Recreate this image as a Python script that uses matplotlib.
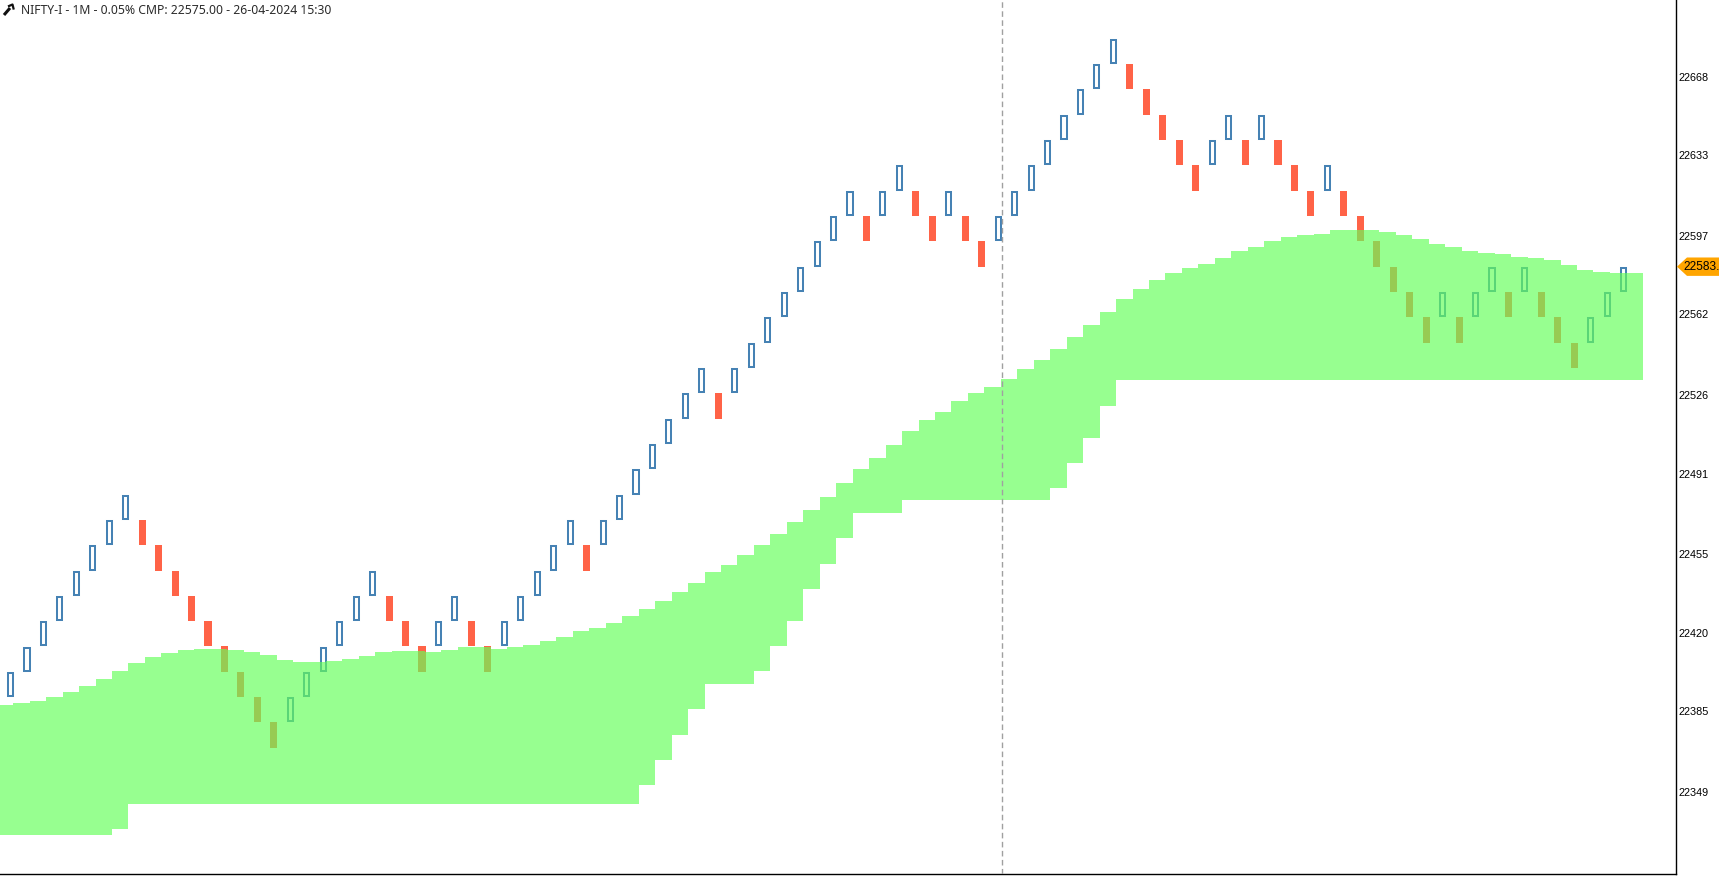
import numpy as np
import matplotlib
matplotlib.use("Agg")
import matplotlib.pyplot as plt
from matplotlib.lines import Line2D
from matplotlib.patches import Polygon
import matplotlib.transforms as mtransforms

# Renko bricks (0.05% box): top price of every brick and its direction
box_size = 11.29
brick_top = [
    22402.65, 22413.94, 22425.23, 22436.52, 22447.81, 22459.10, 22470.39, 22481.68,
    22470.39, 22459.10, 22447.81, 22436.52, 22425.23, 22413.94, 22402.65, 22391.36, 22380.07,
    22391.36, 22402.65, 22413.94, 22425.23, 22436.52, 22447.81,
    22436.52, 22425.23, 22413.94,
    22425.23, 22436.52,
    22425.23, 22413.94,
    22425.23, 22436.52, 22447.81, 22459.10, 22470.39,
    22459.10,
    22470.39, 22481.68, 22492.97, 22504.26, 22515.55, 22526.84, 22538.13,
    22526.84,
    22538.13, 22549.42, 22560.71, 22572.00, 22583.29, 22594.58, 22605.87, 22617.16,
    22605.87,
    22617.16, 22628.45,
    22617.16, 22605.87,
    22617.16,
    22605.87, 22594.58,
    22605.87, 22617.16, 22628.45, 22639.74, 22651.03, 22662.32, 22673.61, 22684.90,
    22673.61, 22662.32, 22651.03, 22639.74, 22628.45,
    22639.74, 22651.03,
    22639.74,
    22651.03,
    22639.74, 22628.45, 22617.16,
    22628.45,
    22617.16, 22605.87, 22594.58, 22583.29, 22572.00, 22560.71,
    22572.00,
    22560.71,
    22572.00, 22583.29,
    22572.00,
    22583.29,
    22572.00, 22560.71, 22549.42,
    22560.71, 22572.00, 22583.29,
]
brick_dir = list(
    "UUUUUUUU" "DDDDDDDDD" "UUUUUU" "DDD" "UU" "DD" "UUUUU" "D" "UUUUUUU" "D"
    "UUUUUUUU" "D" "UU" "DD" "U" "DD" "UUUUUUUU" "DDDDD" "UU" "D" "U" "DDD" "U"
    "DDDDDD" "U" "D" "UU" "D" "U" "DDD" "UUU"
)

# Green band (upper / lower edge per column, column 0 is just before the first brick)
band_upper = [
    22387.8, 22388.7, 22389.6, 22391.4, 22393.6, 22396.3, 22399.4, 22403.0, 22406.6, 22409.2,
    22411.0, 22412.4, 22412.8, 22412.8, 22412.4, 22411.5, 22410.1, 22407.9, 22407.0, 22407.0,
    22407.5, 22408.4, 22409.7, 22411.5, 22411.9, 22411.9, 22411.5, 22412.4, 22413.7, 22413.7,
    22412.8, 22413.7, 22414.6, 22416.4, 22418.2, 22420.8, 22422.2, 22424.4, 22427.5, 22430.6,
    22434.2, 22438.2, 22442.2, 22447.1, 22450.3, 22454.7, 22459.2, 22464.1, 22469.4, 22474.8,
    22480.6, 22486.8, 22493.1, 22498.0, 22503.8, 22510.0, 22514.9, 22518.5, 22523.4, 22526.9,
    22529.6, 22533.2, 22537.6, 22541.6, 22546.6, 22551.9, 22557.3, 22563.1, 22568.8, 22573.3,
    22577.3, 22580.5, 22582.7, 22584.5, 22587.1, 22590.2, 22592.0, 22594.7, 22596.5, 22597.4,
    22597.8, 22599.6, 22599.6, 22599.6, 22598.7, 22597.4, 22595.6, 22593.4, 22592.0, 22590.2,
    22589.4, 22588.9, 22587.6, 22587.1, 22586.2, 22584.0, 22581.8, 22580.9, 22580.5, 22580.5,
]
band_lower = [
    22329.9, 22329.9, 22329.9, 22329.9, 22329.9, 22329.9, 22329.9, 22332.6, 22343.7, 22343.7,
    22343.7, 22343.7, 22343.7, 22343.7, 22343.7, 22343.7, 22343.7, 22343.7, 22343.7, 22343.7,
    22343.7, 22343.7, 22343.7, 22343.7, 22343.7, 22343.7, 22343.7, 22343.7, 22343.7, 22343.7,
    22343.7, 22343.7, 22343.7, 22343.7, 22343.7, 22343.7, 22343.7, 22343.7, 22343.7, 22352.2,
    22363.3, 22374.5, 22386.1, 22397.2, 22397.2, 22397.2, 22403.0, 22414.1, 22425.3, 22439.6,
    22450.7, 22462.3, 22473.4, 22473.4, 22473.4, 22479.2, 22479.2, 22479.2, 22479.2, 22479.2,
    22479.2, 22479.2, 22479.2, 22479.2, 22484.6, 22495.7, 22506.9, 22521.1, 22532.7, 22532.7,
    22532.7, 22532.7, 22532.7, 22532.7, 22532.7, 22532.7, 22532.7, 22532.7, 22532.7, 22532.7,
    22532.7, 22532.7, 22532.7, 22532.7, 22532.7, 22532.7, 22532.7, 22532.7, 22532.7, 22532.7,
    22532.7, 22532.7, 22532.7, 22532.7, 22532.7, 22532.7, 22532.7, 22532.7, 22532.7, 22532.7,
]

price_ticks = [22349, 22385, 22420, 22455, 22491, 22526, 22562, 22597, 22633, 22668]
last_price = 22583.29
title = "NIFTY-I - 1M - 0.05% CMP: 22575.00 - 26-04-2024 15:30"

W, H = 1719, 890
fig = plt.figure(figsize=(W / 100, H / 100), dpi=100)
ax = fig.add_axes([0, 1 - 874 / H, 1676 / W, 874 / H])

x = np.arange(1, len(brick_top) + 1)
top = np.array(brick_top)
up = np.array([d == "U" for d in brick_dir])

# down bricks: solid tomato
ax.bar(x[~up], box_size, bottom=top[~up] - box_size, width=0.43,
       color="#FF6347", linewidth=0, zorder=2)
# up bricks: hollow steel blue
inset = 0.45
ax.bar(x[up], box_size - 2 * inset, bottom=top[up] - box_size + inset, width=0.31,
       fill=False, edgecolor="#4682B4", linewidth=1.45, zorder=2)

# translucent green band drawn over the bricks
xe = np.arange(len(band_upper) + 1) + 0.164
ax.fill_between(xe, band_lower + band_lower[-1:], band_upper + band_upper[-1:],
                step="post", color="#65FF5A", alpha=0.67, linewidth=0, zorder=3)

ax.axvline(61.22, color="#a0a0a0", linewidth=1.0, linestyle=(0, (4, 2.5)), zorder=4)

ax.set_xlim(0.362, 102.18)
ax.set_ylim(22312.5, 22702.2)
ax.set_xticks([])
ax.yaxis.tick_right()
ax.set_yticks(price_ticks)
ax.set_yticklabels([str(v) for v in price_ticks], fontsize=7.8, family="Liberation Sans")
ax.tick_params(axis="y", length=0, pad=1.5, colors="black")
for s in ["top", "left"]:
    ax.spines[s].set_visible(False)
for s in ["right", "bottom"]:
    ax.spines[s].set_color("black")
    ax.spines[s].set_linewidth(1.0)

# last price tag on the axis (the reference cuts it at the right edge too)
trans = mtransforms.blended_transform_factory(fig.transFigure, ax.transData)
h = 4.1
tag = Polygon([(1677 / W, last_price), (1687 / W, last_price + h), (1.02, last_price + h),
               (1.02, last_price - h), (1687 / W, last_price - h)],
              closed=True, transform=trans, facecolor="#FFA500", edgecolor="none",
              clip_on=False, zorder=6)
fig.add_artist(tag)
fig.text(1683 / W, last_price, f"{last_price:.2f}", transform=trans, fontsize=8.6,
         family="Liberation Sans", va="center", ha="left", color="black", zorder=7)

# title with a little wrench icon
fig.add_artist(Line2D([4 / W, 10 / W], [1 - 15 / H, 1 - 8 / H], color="#111111",
                      linewidth=2.2, solid_capstyle="butt"))
fig.add_artist(Line2D([9 / W, 12.5 / W, 13.5 / W], [1 - 6 / H, 1 - 4.5 / H, 1 - 8.5 / H],
                      color="#111111", linewidth=1.6))
fig.text(21 / W, 1 - 10 / H, title, fontsize=8.8, family="Noto Sans", color="#2b2b2b",
         va="center", ha="left")

fig.savefig("out.png", dpi=100)
